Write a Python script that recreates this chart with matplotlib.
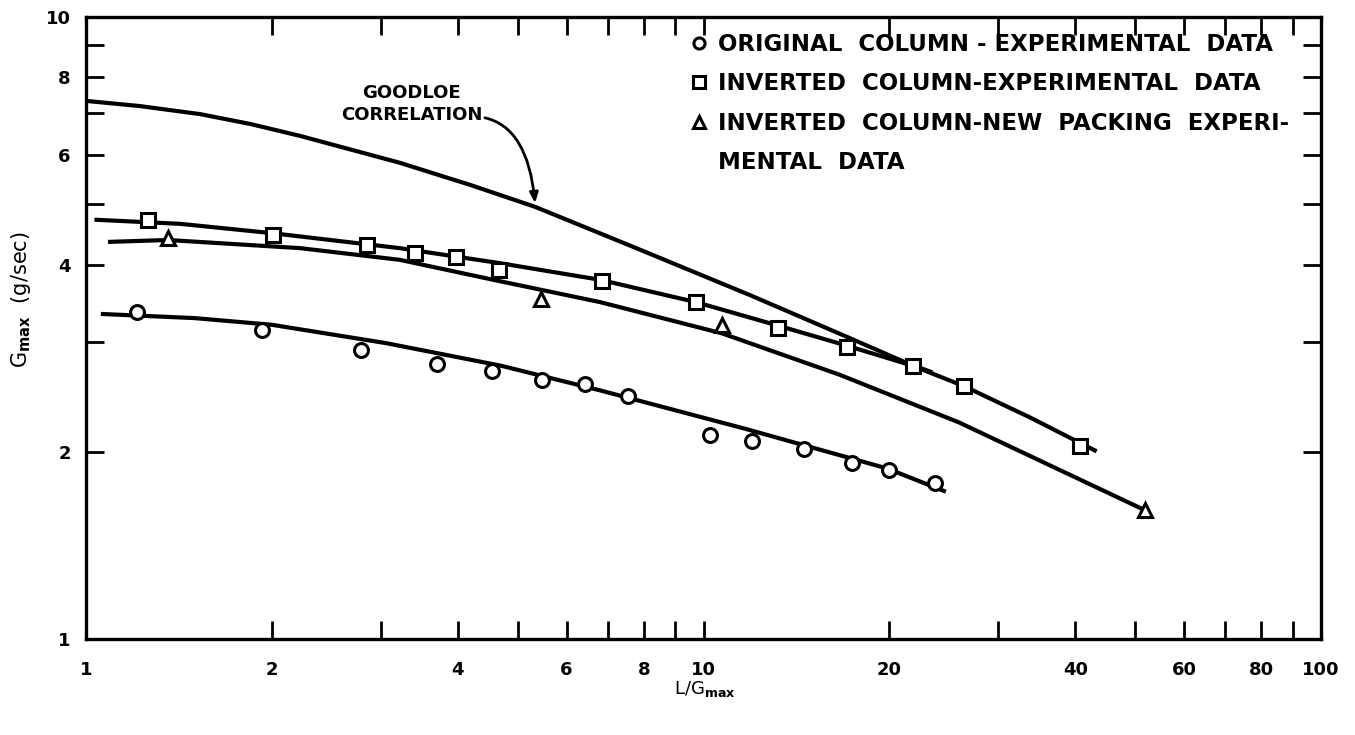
import numpy as np
import matplotlib.pyplot as plt
from matplotlib.ticker import FixedLocator, FixedFormatter, NullLocator
from matplotlib.lines import Line2D

plt.rcParams['font.family'] = 'DejaVu Sans'
plt.rcParams['font.weight'] = 'bold'
plt.rcParams['mathtext.default'] = 'bf'

# original column - experimental data (circles)
orig_x = [1.21, 1.93, 2.79, 3.70, 4.54, 5.48, 6.43, 7.55, 10.25, 12.0, 14.55, 17.4, 20.0, 23.7]
orig_y = [3.36, 3.14, 2.92, 2.77, 2.70, 2.61, 2.57, 2.46, 2.13, 2.08, 2.02, 1.92, 1.87, 1.78]
orig_fit_x = [1.065, 1.5, 2.0, 3.06, 4.7, 6.8, 11.63, 19.83, 24.5]
orig_fit_y = [3.33, 3.28, 3.20, 2.99, 2.75, 2.51, 2.18, 1.88, 1.73]

# inverted column - experimental data (squares)
inv_x = [1.26, 2.01, 2.85, 3.41, 3.97, 4.67, 6.85, 9.72, 13.2, 17.1, 21.8, 26.4, 40.7]
inv_y = [4.72, 4.46, 4.30, 4.17, 4.11, 3.92, 3.76, 3.48, 3.16, 2.95, 2.75, 2.55, 2.04]
inv_fit_x = [1.04, 1.42, 2.01, 3.22, 4.68, 6.8, 9.72, 13.2, 17.1, 21.8, 26.4, 33.8, 43.0]
inv_fit_y = [4.72, 4.65, 4.49, 4.25, 4.02, 3.78, 3.48, 3.19, 2.96, 2.75, 2.55, 2.27, 2.01]

# inverted column - new packing (triangles)
new_x = [1.357, 5.46, 10.71, 51.9]
new_y = [4.41, 3.52, 3.20, 1.61]
new_fit_x = [1.094, 1.357, 2.22, 3.22, 4.68, 6.80, 10.71, 16.6, 25.9, 48.0, 51.9]
new_fit_y = [4.35, 4.38, 4.25, 4.07, 3.76, 3.48, 3.10, 2.66, 2.23, 1.67, 1.61]

# goodloe correlation
good_x = [1.0, 1.223, 1.53, 1.844, 2.22, 3.22, 4.19, 5.34, 7.69, 11.9, 17.2, 21.3, 23.3]
good_y = [7.33, 7.19, 6.98, 6.73, 6.44, 5.83, 5.37, 4.95, 4.27, 3.57, 3.05, 2.78, 2.69]

xticks = [1, 2, 3, 4, 5, 6, 7, 8, 9, 10, 20, 30, 40, 50, 60, 70, 80, 90, 100]
xlabels = ['1', '2', '', '4', '', '6', '', '8', '', '10', '20', '', '40', '', '60', '', '80', '', '100']
yticks = [1, 2, 3, 4, 5, 6, 7, 8, 9, 10]
ylabels = ['1', '2', '', '4', '', '6', '', '8', '', '10']

fig = plt.figure(figsize=(13.55, 7.35), dpi=100)
ax = fig.add_axes([0.0635, 0.1306, 0.9115, 0.8463])
ax.set_xscale('log')
ax.set_yscale('log')
ax.set_xlim(1, 100)
ax.set_ylim(1, 10)

lw = 3
ax.plot(good_x, good_y, color='black', lw=lw)
ax.plot(orig_fit_x, orig_fit_y, color='black', lw=lw)
ax.plot(inv_fit_x, inv_fit_y, color='black', lw=lw)
ax.plot(new_fit_x, new_fit_y, color='black', lw=lw)

mk = dict(linestyle='none', markerfacecolor='white', markeredgecolor='black',
          markeredgewidth=2.2, markersize=10)
ax.plot(orig_x, orig_y, marker='o', **mk)
ax.plot(inv_x, inv_y, marker='s', **mk)
ax.plot(new_x, new_y, marker='^', **mk)

ax.xaxis.set_major_locator(FixedLocator(xticks))
ax.xaxis.set_major_formatter(FixedFormatter(xlabels))
ax.xaxis.set_minor_locator(NullLocator())
ax.yaxis.set_major_locator(FixedLocator(yticks))
ax.yaxis.set_major_formatter(FixedFormatter(ylabels))
ax.yaxis.set_minor_locator(NullLocator())

ax.tick_params(which='both', direction='in', length=13, width=2, top=True, right=True,
               labelsize=13)
ax.tick_params(axis='x', pad=16)
ax.tick_params(axis='y', pad=11)
for s in ax.spines.values():
    s.set_linewidth(2.4)

ax.set_xlabel('L/G$_{max}$', fontsize=13)
ax.xaxis.set_label_coords(0.501, -0.065)
ax.set_ylabel('G$_{max}$  (g/sec)', fontsize=15)
ax.yaxis.set_label_coords(-0.043, 0.545)

# goodloe label + arrow
ax.text(3.37, 7.25, 'GOODLOE\nCORRELATION', ha='center', va='center', fontsize=13,
        linespacing=1.25)
ax.annotate('', xy=(5.34, 4.97), xytext=(4.38, 6.9),
            arrowprops=dict(arrowstyle='-|>,head_length=0.6,head_width=0.25', color='black', lw=2,
                            connectionstyle='angle3,angleA=-10,angleB=95'))

handles = [
    Line2D([], [], marker='o', **mk),
    Line2D([], [], marker='s', **mk),
    Line2D([], [], marker='^', **mk),
    Line2D([], [], linestyle='none'),
]
for h in handles[:3]:
    h.set_markersize(8)
labels = ['ORIGINAL  COLUMN - EXPERIMENTAL  DATA',
          'INVERTED  COLUMN-EXPERIMENTAL  DATA',
          'INVERTED  COLUMN-NEW  PACKING  EXPERI-',
          'MENTAL  DATA']
ax.legend(handles, labels, loc='upper left', bbox_to_anchor=(0.49, 0.975), frameon=False,
          fontsize=16.5, handlelength=0.7, handletextpad=0.45, labelspacing=0.72,
          borderpad=0, borderaxespad=0)

fig.savefig('out.png', dpi=100)
